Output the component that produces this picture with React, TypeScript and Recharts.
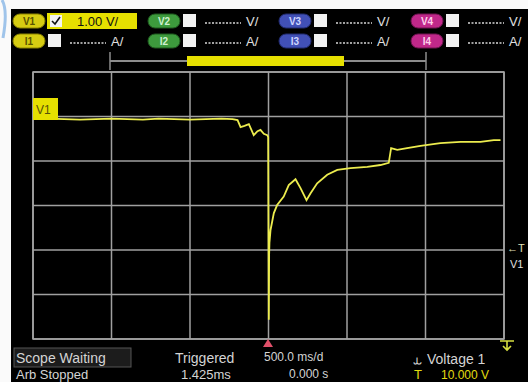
import { LineChart, Line, XAxis, YAxis, CartesianGrid } from "recharts";

// Voltage 1 capture, 500 ms/div, 1 V/div
const timeMs = [
  -1500, -1400, -1300, -1200, -1100, -1000, -900, -800, -700, -600, -500, -400, -300, -229,
  -197, -178, -153, -125, -94, -70, -51, -30, -8, -2, 2, 4, 6, 13, 34, 55, 97, 129, 172, 204,
  242, 267, 310, 374, 438, 522, 629, 713, 766, 781, 820, 883, 968, 1095, 1223, 1350, 1435, 1478,
];
const volts = [
  12.94, 12.95, 12.94, 12.93, 12.94, 12.95, 12.94, 12.93, 12.95, 12.94, 12.93, 12.94, 12.95, 12.94,
  12.92, 12.76, 12.79, 12.83, 12.58, 12.67, 12.7, 12.61, 12.58, 12.54, 8.43, 9.9, 10.16, 10.45,
  10.83, 11.01, 11.2, 11.46, 11.59, 11.39, 11.12, 11.27, 11.5, 11.69, 11.8, 11.84, 11.87, 11.91,
  11.96, 12.29, 12.25, 12.29, 12.34, 12.4, 12.43, 12.43, 12.47, 12.47,
];
const timeTicks = [-1500, -1000, -500, 0, 500, 1000, 1500];
const voltTicks = [8, 9, 10, 11, 12, 13, 14];

const rows = timeMs.map((t, i) => ({ t, v: volts[i] }));

const FONT = "'Liberation Sans', Arial, sans-serif";

const channels = [
  { x: 13, v: "V1", i: "I1", fill: "#d6cc12", text: "#5a5300", edge: "#8c8400" },
  { x: 148, v: "V2", i: "I2", fill: "#3d9a3d", text: "#cff0cf", edge: "#1f5a1f" },
  { x: 279, v: "V3", i: "I3", fill: "#4150b6", text: "#cfd5ff", edge: "#222c70" },
  { x: 411, v: "V4", i: "I4", fill: "#c0288a", text: "#ffd0ec", edge: "#701450" },
];

function Pill({ x, y, label, c }: { x: number; y: number; label: string; c: (typeof channels)[0] }) {
  return (
    <g>
      <rect x={x} y={y} width={32} height={14} rx={7} fill={c.fill} stroke={c.edge} />
      <text x={x + 16} y={y + 11} fontSize={10} fontWeight="bold" fill={c.text} textAnchor="middle" fontFamily={FONT}>
        {label}
      </text>
    </g>
  );
}

function Header() {
  return (
    <g>
      {channels.map((c, k) => {
        const rowsY = [14, 34];
        return (
          <g key={c.v}>
            {rowsY.map((y, r) => {
              const first = k === 0 && r === 0;
              return (
                <g key={r}>
                  <Pill x={c.x} y={y} label={r === 0 ? c.v : c.i} c={c} />
                  {first ? (
                    <g>
                      <rect x={47} y={y - 1} width={90} height={16} fill="#e6e000" />
                      <rect x={50} y={y + 1} width={12} height={12} fill="#f4f4f4" />
                      <path d={`M52 ${y + 7} l3 3 l5 -7`} stroke="#111" strokeWidth={1.6} fill="none" />
                      <text x={77} y={y + 12} fontSize={13} fill="#111" fontFamily={FONT}>
                        1.00 V/
                      </text>
                    </g>
                  ) : (
                    <g>
                      <rect x={c.x + 35} y={y} width={13} height={13} fill="#f2f2f2" />
                      <line x1={c.x + 57} x2={c.x + 93} y1={y + 9} y2={y + 9} stroke="#d8d8d8" strokeWidth={1.4} strokeDasharray="2 1.5" />
                      <text x={c.x + 98} y={y + 12} fontSize={13} fill="#e0e0e0" fontFamily={FONT}>
                        {r === 0 ? "V/" : "A/"}
                      </text>
                    </g>
                  )}
                </g>
              );
            })}
          </g>
        );
      })}
      {/* horizontal position bar */}
      <line x1={110} x2={426} y1={61} y2={61} stroke="#8c8c8c" strokeWidth={2} />
      <line x1={110} x2={110} y1={52} y2={70} stroke="#8c8c8c" strokeWidth={1.5} />
      <line x1={426} x2={426} y1={52} y2={70} stroke="#8c8c8c" strokeWidth={1.5} />
      <rect x={187} y={56} width={157} height={10} fill="#e6e000" />
    </g>
  );
}

function Overlay() {
  return (
    <svg width={528} height={382} style={{ position: "absolute", left: 0, top: 0, pointerEvents: "none" }}>
      {/* frame outside the screen */}
      <path d="M0 0 H528 V9 H11 V382 H0 Z" fill="#fafafa" />
      <path d="M2 0 Q8 10 3 38" stroke="#9fc4ea" strokeWidth={3} fill="none" />
      <Header />
      <rect x={33} y={72} width={471} height={267} fill="none" stroke="#a4a4a4" strokeWidth={1.5} />
      {/* channel offset marker */}
      <rect x={33} y={98} width={25} height={22} fill="#e6e000" />
      <text x={36} y={114} fontSize={12} fill="#55500a" fontFamily={FONT}>
        V1
      </text>
      {/* trigger level marker */}
      <text x={507} y={252} fontSize={11} fill="#e0e0b8" fontFamily={FONT}>
        ←T
      </text>
      <text x={510} y={268} fontSize={11} fill="#e0e0e0" fontFamily={FONT}>
        V1
      </text>
      {/* trigger time marker */}
      <path d="M263 347 L268 339 L273 347 Z" fill="#e0506a" />
      <path d="M500 341 H514 M507 341 V350 M503 346 L507 350 L511 346" stroke="#d8e040" strokeWidth={1.6} fill="none" />
      {/* status line */}
      <rect x={14} y={348} width={117} height={19} fill="#1c1c1c" stroke="#555" />
      <g fontFamily={FONT} fill="#d4d4d4">
        <text x={16} y={363} fontSize={14}>Scope Waiting</text>
        <text x={16} y={379} fontSize={13}>Arb Stopped</text>
        <text x={175} y={363} fontSize={14}>Triggered</text>
        <text x={181} y={379} fontSize={13}>1.425ms</text>
        <text x={264} y={361} fontSize={12}>500.0 ms/d</text>
        <text x={289} y={378} fontSize={12}>0.000 s</text>
        <text x={414} y={364} fontSize={14}>⥿</text>
        <text x={427} y={364} fontSize={14}>Voltage 1</text>
      </g>
      <g fontFamily={FONT} fill="#e2dc10">
        <text x={414} y={379} fontSize={13}>T</text>
        <text x={441} y={379} fontSize={12}>10.000 V</text>
      </g>
    </svg>
  );
}

export default function App() {
  return (
    <div style={{ position: "absolute", left: 0, top: 0, width: 528, height: 382, background: "#000", overflow: "hidden" }}>
      <LineChart width={528} height={382} data={rows} margin={{ top: 72, right: 24, bottom: 43, left: 33 }}>
        <CartesianGrid stroke="#a0a0a0" strokeWidth={1.5} />
        <XAxis dataKey="t" type="number" domain={[-1500, 1500]} ticks={timeTicks} hide />
        <YAxis type="number" domain={[8, 14]} ticks={voltTicks} hide />
        <Line
          dataKey="v"
          type="linear"
          stroke="#ecec4e"
          strokeWidth={1.8}
          dot={false}
          isAnimationActive={false}
        />
      </LineChart>
      <Overlay />
    </div>
  );
}
